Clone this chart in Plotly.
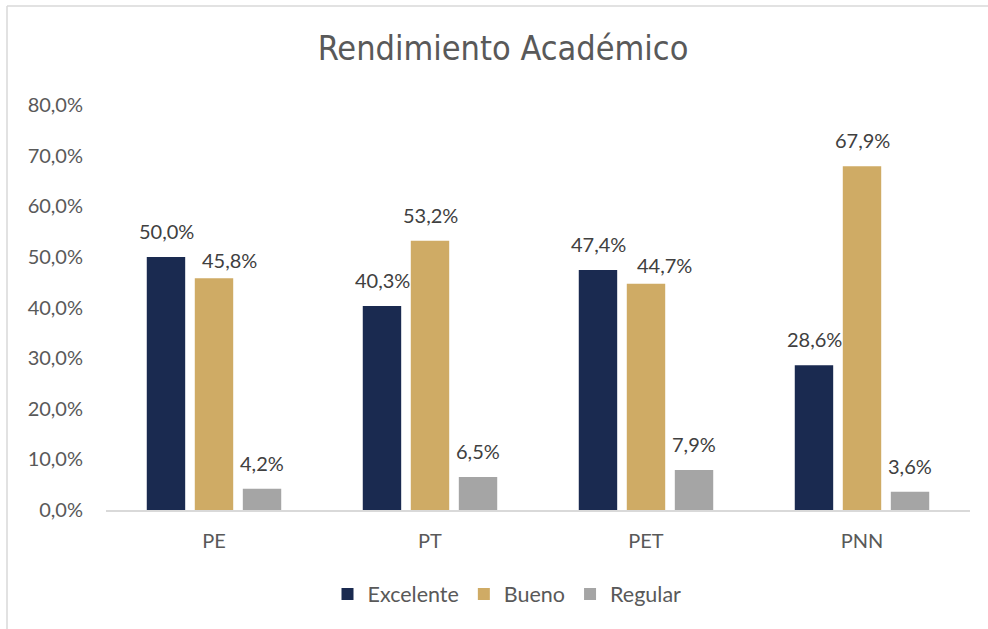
import plotly.graph_objects as go

categories = ["PE", "PT", "PET", "PNN"]
excelente = [0.500, 0.403, 0.474, 0.286]
bueno = [0.458, 0.532, 0.447, 0.679]
regular = [0.042, 0.065, 0.079, 0.036]
series_names = ["Excelente", "Bueno", "Regular"]
colors = ["#1A2A50", "#CFAB65", "#A5A5A5"]

FONT = "Lato, 'Open Sans', sans-serif"
TITLE_FONT = "'Liberation Sans Narrow', 'DejaVu Sans Condensed', Lato, sans-serif"

L, R, T, B = 106, 18, 105, 119
W, H = 988, 629
pw, ph = W - L - R, H - T - B

def px(x):
    return (x - L) / pw

def py(y):
    return (H - B - y) / ph

# per-series horizontal offset of the bar inside its group (pixels)
group_offsets = [-48, 0, 48]
# labels that were moved aside in the original to avoid overlapping (style only)
label_nudge = {(1, 0): (15, -8), (1, 2): (18, -7)}

fig = go.Figure()
annotations = []
for si, (name, vals, col) in enumerate(zip(series_names, [excelente, bueno, regular], colors)):
    fig.add_trace(go.Bar(
        x=categories, y=vals, name=name, marker_color=col, marker_line_width=0,
    ))
    for ci, (cat, v) in enumerate(zip(categories, vals)):
        dx, dy = label_nudge.get((si, ci), (0, 0))
        annotations.append(dict(
            x=cat, y=v, xref="x", yref="y", showarrow=False,
            text=f"{v * 100:.1f}%".replace(".", ","),
            xanchor="center", yanchor="bottom",
            xshift=group_offsets[si] + dx, yshift=12 + dy,
            font=dict(size=20, color="#404040", family=FONT),
        ))

border = dict(color="#D9D9D9", width=1.5)
fig.update_layout(
    width=W, height=H,
    margin=dict(l=L, r=R, t=T, b=B),
    paper_bgcolor="white", plot_bgcolor="white",
    separators=",.",
    font=dict(family=FONT, color="#595959", size=20),
    title=dict(text="Rendimiento Académico", x=503 / W, xanchor="center",
               y=1 - 48 / H, yanchor="middle",
               font=dict(size=34, color="#595959", family=TITLE_FONT)),
    barmode="group", bargap=0.333, bargroupgap=0.2,
    showlegend=True,
    legend=dict(orientation="h", x=px(507), xanchor="center", y=py(594), yanchor="middle",
                font=dict(size=21.5, color="#595959", family=FONT),
                itemwidth=30, traceorder="normal"),
    xaxis=dict(showgrid=False, showline=True, linecolor="#D9D9D9", linewidth=1.5,
               ticks="", tickfont=dict(size=20, color="#595959"), zeroline=False,
               ticklabelstandoff=12),
    yaxis=dict(range=[0, 0.8], dtick=0.1, tickformat=".1%", showgrid=False,
               showline=False, zeroline=False, ticks="",
               tickfont=dict(size=20, color="#595959"), ticklabelstandoff=22),
    annotations=annotations,
    shapes=[
        dict(type="line", xref="paper", yref="paper",
             x0=px(7), x1=px(7), y0=py(629), y1=py(6), line=border, layer="below"),
        dict(type="line", xref="paper", yref="paper",
             x0=px(7), x1=px(988), y0=py(6), y1=py(6), line=border, layer="below"),
    ],
)

fig.write_html("out.html", config={"displayModeBar": False},
               post_script="document.body.style.margin='0';document.body.style.padding='0';")
